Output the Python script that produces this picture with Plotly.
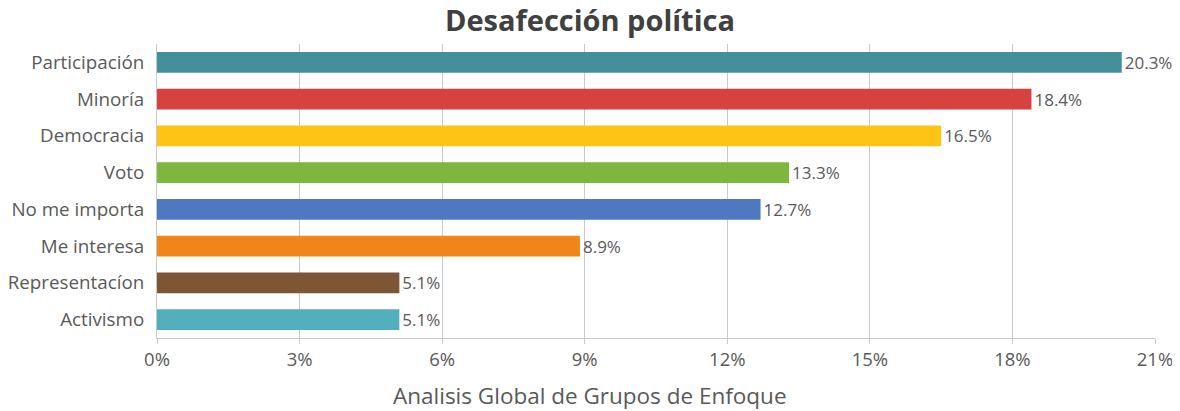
import plotly.graph_objects as go

categories = ["Participación", "Minoría", "Democracia", "Voto", "No me importa",
              "Me interesa", "Representacíon", "Activismo"]
values = [20.3, 18.4, 16.5, 13.3, 12.7, 8.9, 5.1, 5.1]
colors = ["#44909A", "#D6433E", "#FDC315", "#7DB73E", "#4E79C0",
          "#F0861A", "#7E5535", "#52AFBE"]
tick_vals = [0, 3, 6, 9, 12, 15, 18, 21]
tick_text = ["0%", "3%", "6%", "9%", "12%", "15%", "18%", "21%"]

FONT = "Open Sans, Noto Sans, sans-serif"
# the page body adds an 8px offset, so the figure is sized to fill the rest
OFF = 8
W, H = 1180 - OFF, 411 - OFF
ML, MR, MT, MB = 157 - OFF, 25, 44 - OFF, 73

fig = go.Figure(go.Bar(
    x=values, y=categories, orientation="h",
    marker=dict(color=colors, line=dict(width=0)),
    text=[f"{v:.1f}%" for v in values], textposition="outside",
    constraintext="none",
    textfont=dict(size=17, color="#595959", family=FONT),
    cliponaxis=False,
))

fig.update_layout(
    width=W, height=H,
    margin=dict(l=ML, r=MR, t=MT, b=MB),
    paper_bgcolor="white", plot_bgcolor="white",
    title=dict(text="<b>Desafección política</b>",
               x=(590 - OFF) / W, xanchor="center",
               xref="container", yref="container",
               y=1 - (21 - OFF) / H, yanchor="middle",
               font=dict(size=29, color="#404040", family=FONT)),
    bargap=0.43,
    showlegend=False,
    font=dict(family=FONT, color="#595959"),
    annotations=[dict(
        text="Analisis Global de Grupos de Enfoque",
        xref="paper", yref="paper",
        x=(590 - OFF - ML) / (W - ML - MR), y=0,
        xanchor="center", yanchor="middle", yshift=-57,
        showarrow=False,
        font=dict(size=22.5, color="#595959", family=FONT),
    )],
)
fig.update_xaxes(
    range=[0, 21], tickvals=tick_vals, ticktext=tick_text,
    showgrid=True, gridcolor="#C9C9C9", gridwidth=1,
    zeroline=False, showline=True, linecolor="#C9C9C9",
    ticks="outside", ticklen=5, tickcolor="#C9C9C9",
    tickfont=dict(size=18.5, color="#595959"),
    automargin=False,
)
fig.update_yaxes(
    autorange="reversed", showline=True, linecolor="#C9C9C9",
    ticks="", ticklabelstandoff=8,
    tickfont=dict(size=18.8, color="#595959"),
    automargin=False,
)

fig.write_html("out.html")
